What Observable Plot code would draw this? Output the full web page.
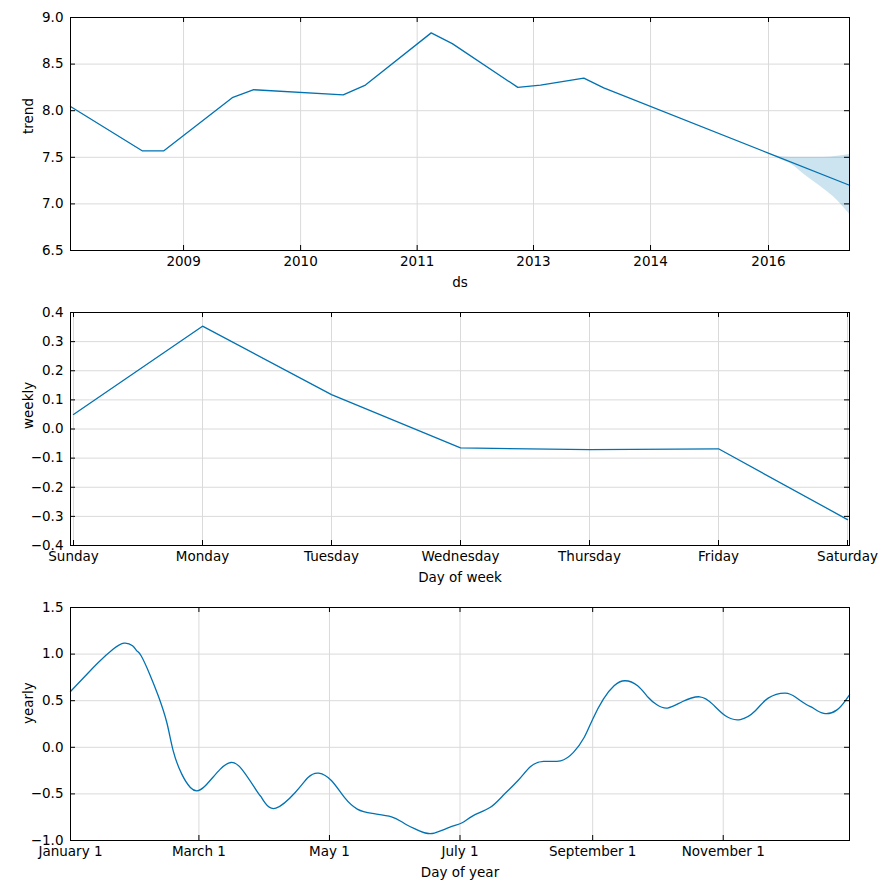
<!DOCTYPE html>
<html><head><meta charset="utf-8">
<script src="https://cdn.jsdelivr.net/npm/d3@7"></script>
<script src="https://cdn.jsdelivr.net/npm/@observablehq/plot@0.6"></script>
<style>
html,body{margin:0;padding:0;background:#fff;}
#chart svg{display:block;}
</style></head><body><div id="chart"></div>
<script>
// ---- Trend panel data ----
const trendDates = ["2007-12-10","2008-10-11","2009-01-12","2009-10-31","2010-01-31","2011-02-17","2011-05-23","2012-02-28","2012-05-28","2013-03-04","2013-06-09","2013-12-11","2014-03-06","2016-02-07","2017-01-19"];
const trendValues = [8.045, 7.57, 7.57, 8.14, 8.225, 8.17, 8.275, 8.835, 8.72, 8.25, 8.275, 8.35, 8.245, 7.545, 7.20];
const bandDates = ["2016-02-12","2016-03-20","2016-05-12","2016-07-22","2016-10-01","2016-11-27","2017-01-19"];
const bandUpper = [7.54, 7.51, 7.50, 7.50, 7.50, 7.51, 7.53];
const bandLower = [7.54, 7.49, 7.43, 7.29, 7.16, 7.04, 6.89];
const trendTickDates = ["2009-04-06","2010-08-19","2011-12-30","2013-05-10","2014-09-22","2016-02-08"];
const trendTickLabels = ["2009","2010","2011","2013","2014","2016"];
const trendYTicks = [6.5, 7.0, 7.5, 8.0, 8.5, 9.0];

// ---- Weekly panel data ----
const weekDays = ["Sunday","Monday","Tuesday","Wednesday","Thursday","Friday","Saturday"];
const weeklyValues = [0.05, 0.353, 0.118, -0.065, -0.071, -0.068, -0.311];
const weeklyYTicks = [-0.4, -0.3, -0.2, -0.1, 0.0, 0.1, 0.2, 0.3, 0.4];

// ---- Yearly panel data (day offset from January 1) ----
const yearlyDays = [0,7,13,20,25,29,31,33,37,41,45,48,52,56,59,63,70,75,80,87,89,91,96,105,111,116,122,128,134,141,150,156,163,169,177,183,188,196,202,209,215,221,229,235,240,244,249,254,259,265,270,274,279,286,294,300,306,313,320,326,334,339,344,347,352,358,362,364];
const yearlyValues = [0.599,0.767,0.910,1.054,1.118,1.089,1.035,0.982,0.785,0.553,0.266,-0.038,-0.288,-0.431,-0.467,-0.413,-0.234,-0.163,-0.234,-0.467,-0.530,-0.600,-0.653,-0.485,-0.324,-0.277,-0.359,-0.538,-0.663,-0.710,-0.746,-0.817,-0.896,-0.925,-0.860,-0.810,-0.735,-0.646,-0.520,-0.359,-0.206,-0.152,-0.145,-0.055,0.105,0.302,0.517,0.660,0.714,0.660,0.534,0.456,0.421,0.491,0.542,0.463,0.338,0.298,0.392,0.528,0.582,0.534,0.456,0.421,0.363,0.399,0.499,0.563];
const yearlyTickDates = ["2016-01-01","2016-03-01","2016-05-01","2016-07-01","2016-09-01","2016-11-01"];
const yearlyTickLabels = ["January 1","March 1","May 1","July 1","September 1","November 1"];
const yearlyYTicks = [-1.0, -0.5, 0.0, 0.5, 1.0, 1.5];

// ---- build ----
const W = 890, ML = 70, MR = 41;
const BLUE = "#0072B2", GRID = "#dadada";
const FS = 13.5;
const style = {fontFamily: "'DejaVu Sans', sans-serif", fontSize: FS + "px", color: "black", background: "white"};

function panel({height, mt, mb, x, y, xTicks, yTicks, xFormat, yFormat, xLabel, yLabel, marks}) {
  const ph = height - mt - mb;
  const pw = W - ML - MR;
  return Plot.plot({
    width: W, height, marginTop: mt, marginBottom: mb, marginLeft: ML, marginRight: MR,
    style,
    x, y,
    marks: [
      Plot.gridX(xTicks, {stroke: GRID, strokeOpacity: 1, strokeWidth: 1}),
      Plot.gridY(yTicks, {stroke: GRID, strokeOpacity: 1, strokeWidth: 1}),
      ...marks,
      Plot.tickX(xTicks, {x: d => d, insetBottom: ph - 5, stroke: "black"}),
      Plot.tickX(xTicks, {x: d => d, insetTop: ph - 5, stroke: "black"}),
      Plot.tickY(yTicks, {y: d => d, insetRight: pw - 5, stroke: "black"}),
      Plot.tickY(yTicks, {y: d => d, insetLeft: pw - 5, stroke: "black"}),
      Plot.frame({stroke: "black", strokeWidth: 1}),
      Plot.axisX(xTicks, {tickSize: 0, tickPadding: 6, tickFormat: xFormat, label: null, fontSize: FS, fill: "black"}),
      Plot.axisY(yTicks, {tickSize: 0, tickPadding: 7, tickFormat: yFormat, label: null, fontSize: FS, fill: "black"}),
      Plot.text([yLabel], {frameAnchor: "left", dx: -42, rotate: -90, text: d => d, fontSize: FS, fill: "black"}),
      Plot.text([xLabel], {frameAnchor: "bottom", dy: 36, text: d => d, fontSize: FS, fill: "black"})
    ]
  });
}

const toDate = s => new Date(s);
const f1 = d3.format(".1f");

// Trend
const trendData = trendDates.map((d, i) => ({date: toDate(d), value: trendValues[i]}));
const bandData = bandDates.map((d, i) => ({date: toDate(d), lo: bandLower[i], hi: bandUpper[i]}));
const tTicks = trendTickDates.map(toDate);
const tLabelMap = new Map(tTicks.map((d, i) => [+d, trendTickLabels[i]]));
const p1 = panel({
  height: 296, mt: 17, mb: 46,
  x: {type: "utc", domain: [toDate(trendDates[0]), toDate(trendDates[trendDates.length - 1])]},
  y: {domain: [6.5, 9.0]},
  xTicks: tTicks, yTicks: trendYTicks,
  xFormat: d => tLabelMap.get(+d), yFormat: f1,
  xLabel: "ds", yLabel: "trend",
  marks: [
    Plot.areaY(bandData, {x: "date", y1: "lo", y2: "hi", fill: BLUE, fillOpacity: 0.2, curve: "monotone-x"}),
    Plot.line(trendData, {x: "date", y: "value", stroke: BLUE, strokeWidth: 1.3})
  ]
});

// Weekly
const weeklyData = weekDays.map((d, i) => ({day: d, value: weeklyValues[i]}));
const p2 = panel({
  height: 297, mt: 16, mb: 48,
  x: {type: "point", domain: weekDays, padding: 0},
  y: {domain: [-0.4, 0.4]},
  xTicks: weekDays, yTicks: weeklyYTicks,
  xFormat: d => d, yFormat: f1,
  xLabel: "Day of week", yLabel: "weekly",
  marks: [
    Plot.line(weeklyData, {x: "day", y: "value", stroke: BLUE, strokeWidth: 1.3})
  ]
});

// Yearly
const yStart = toDate("2016-01-01");
const yearlyData = yearlyDays.map((d, i) => ({date: d3.utcDay.offset(yStart, d), value: yearlyValues[i]}));
const yTicksDates = yearlyTickDates.map(toDate);
const yLabelMap = new Map(yTicksDates.map((d, i) => [+d, yearlyTickLabels[i]]));
const p3 = panel({
  height: 297, mt: 14, mb: 50,
  x: {type: "utc", domain: [yStart, toDate("2016-12-30")]},
  y: {domain: [-1.0, 1.5]},
  xTicks: yTicksDates, yTicks: yearlyYTicks,
  xFormat: d => yLabelMap.get(+d), yFormat: f1,
  xLabel: "Day of year", yLabel: "yearly",
  marks: [
    Plot.line(yearlyData, {x: "date", y: "value", stroke: BLUE, strokeWidth: 1.3, curve: "natural"})
  ]
});

const root = document.getElementById("chart");
root.append(p1, p2, p3);
</script>
</body></html>
